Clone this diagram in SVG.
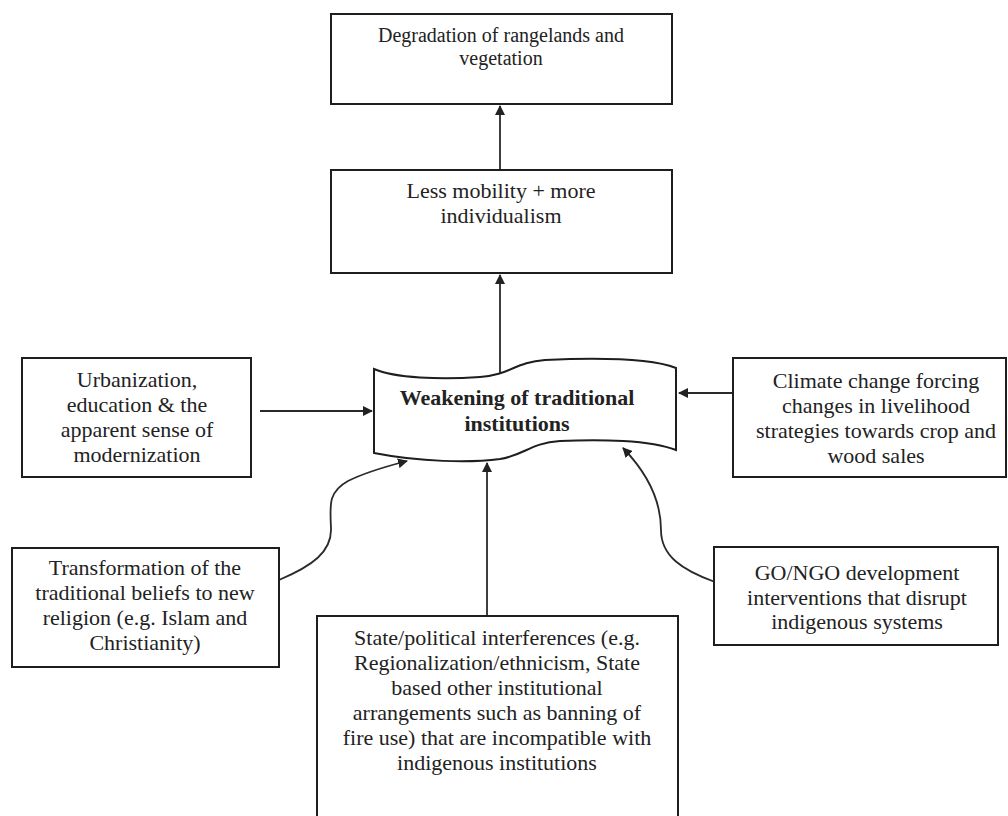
<svg xmlns="http://www.w3.org/2000/svg" width="1008" height="816" viewBox="0 0 1008 816">
<style>
.box{fill:#fff;stroke:#1e1e1e;stroke-width:2}
.t{font-family:"Liberation Serif","Times New Roman",serif;font-size:22px;fill:#222;text-anchor:middle}
.s20{font-size:20px}
.b{font-weight:bold}
.c{fill:none;stroke:#2a2a2a;stroke-width:1.8}
</style>
<defs>
<marker id="ah" viewBox="0 0 10 10" refX="9" refY="5" markerWidth="10" markerHeight="10" markerUnits="userSpaceOnUse" orient="auto">
<path d="M0,0 L10,5 L0,10 Z" fill="#222"/>
</marker>
</defs>
<rect width="1008" height="816" fill="#fff"/>
<g id="connectors">
<line class="c" x1="500" y1="170" x2="500" y2="106" marker-end="url(#ah)"/>
<line class="c" x1="500" y1="376" x2="500" y2="275" marker-end="url(#ah)"/>
<line class="c" x1="260" y1="411" x2="372" y2="411" marker-end="url(#ah)"/>
<line class="c" x1="733" y1="393" x2="679" y2="393" marker-end="url(#ah)"/>
<line class="c" x1="487" y1="616" x2="487" y2="463" marker-end="url(#ah)"/>
<path class="c" d="M279,580 C312,566 332,552 331,528 C330,505 328,492 348,481 C368,471 388,466 407,461" marker-end="url(#ah)"/>
<path class="c" d="M715,582 C682,570 661,556 661,530 C661,505 652,478 623,448" marker-end="url(#ah)"/>
</g>
<g id="n-degradation">
<rect class="box" x="331" y="14" width="341" height="90"/>
<text class="t s20" x="501" y="42">Degradation of rangelands and</text>
<text class="t s20" x="501" y="65">vegetation</text>
</g>
<g id="n-mobility">
<rect class="box" x="331" y="170" width="341" height="103"/>
<text class="t" x="501" y="198">Less mobility + more</text>
<text class="t" x="501" y="223">individualism</text>
</g>
<g id="n-weakening">
<path class="box" d="M374,369 C395,378 440,380 480,377 C510,375 515,362 545,360 C590,358 650,358 676,368 L676,450 C650,440 600,439 560,441 C530,443 525,455 500,459 C470,463 420,462 374,453 Z"/>
<text class="t b" x="517" y="405">Weakening of traditional</text>
<text class="t b" x="517" y="431">institutions</text>
</g>
<g id="n-urbanization">
<rect class="box" x="22" y="358" width="229" height="119"/>
<text class="t" x="137" y="387">Urbanization,</text>
<text class="t" x="137" y="412">education  &amp; the</text>
<text class="t" x="137" y="437">apparent sense of</text>
<text class="t" x="137" y="462">modernization</text>
</g>
<g id="n-climate">
<rect class="box" x="733" y="358" width="273" height="119"/>
<text class="t" x="876" y="388">Climate change forcing</text>
<text class="t" x="876" y="413">changes in livelihood</text>
<text class="t" x="876" y="438">strategies towards crop and</text>
<text class="t" x="876" y="463">wood sales</text>
</g>
<g id="n-transformation">
<rect class="box" x="12" y="548" width="267" height="119"/>
<text class="t" x="145" y="575">Transformation of the</text>
<text class="t" x="145" y="600">traditional beliefs to new</text>
<text class="t" x="145" y="625">religion (e.g. Islam and</text>
<text class="t" x="145" y="650">Christianity)</text>
</g>
<g id="n-gongo">
<rect class="box" x="714" y="547" width="284" height="98"/>
<text class="t" x="857" y="580">GO/NGO development</text>
<text class="t" x="857" y="605">interventions that disrupt</text>
<text class="t" x="857" y="629">indigenous systems</text>
</g>
<g id="n-state">
<rect class="box" x="317" y="616" width="361" height="212"/>
<text class="t" x="497" y="645">State/political interferences (e.g.</text>
<text class="t" x="497" y="670">Regionalization/ethnicism, State</text>
<text class="t" x="497" y="695">based other institutional</text>
<text class="t" x="497" y="720">arrangements such as banning of</text>
<text class="t" x="497" y="745">fire use) that are incompatible with</text>
<text class="t" x="497" y="770">indigenous institutions</text>
</g>
</svg>
